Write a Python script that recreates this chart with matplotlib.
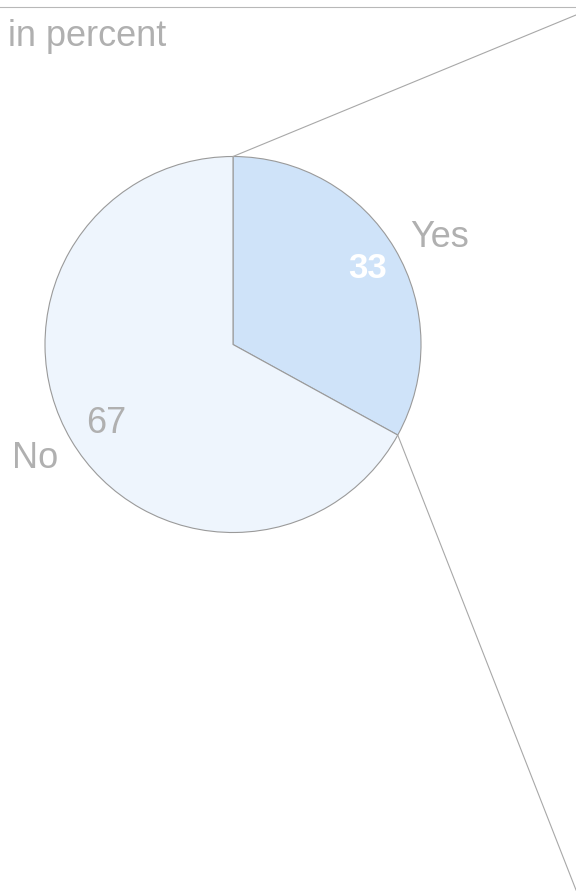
import numpy as np
import matplotlib.pyplot as plt

plt.rcParams['font.family'] = ['Liberation Sans', 'DejaVu Sans']

# --------------------------------------------------------------------------------
labels = ["Yes", "No"]
values = [33, 67]
colors = ["#cfe3f9", "#eef5fd"]
subtitle = "in percent"
# --------------------------------------------------------------------------------

W, H = 576, 896
fig = plt.figure(figsize = (W / 100, H / 100), dpi = 100)
ax = fig.add_axes([0, 0, 1, 1])

cx, cy, r = 233, H - 344.5, 188
wedges, _ = ax.pie(values, colors = colors, startangle = 90, counterclock = False,
                   center = (cx, cy), radius = r, frame = True,
                   wedgeprops = dict(edgecolor = "#9a9a9a", linewidth = 0.8))
ax.set_xlim(0, W)
ax.set_ylim(0, H)
ax.set_aspect("equal")
ax.axis("off")

# connector lines from the "Yes" slice to the (cut-off) breakdown on the right
for ang, yend in [(wedges[0].theta2, H - 15), (wedges[0].theta1, H - 890)]:
    a = np.deg2rad(ang)
    ax.plot([cx + r * np.cos(a), W], [cy + r * np.sin(a), yend], color = "#a8a8a8", lw = 0.8)

# top rule and subtitle
ax.plot([0, W], [H - 7, H - 7], color = "#b8b8b8", lw = 0.8)
ax.text(8, H - 36, subtitle, fontsize = 26, color = "#b0b0b0", va = "center", ha = "left")

# labels
ax.text(440, H - 237, labels[0], fontsize = 26, color = "#b0b0b0", va = "center", ha = "center")
ax.text(35, H - 458, labels[1], fontsize = 26, color = "#b0b0b0", va = "center", ha = "center")
ax.text(368, H - 268, str(values[0]), fontsize = 25, color = "white", fontweight = "bold", va = "center", ha = "center")
ax.text(106, H - 423, str(values[1]), fontsize = 26, color = "#b0b0b0", va = "center", ha = "center")

plt.savefig("out.png", dpi = 100)
plt.close()
